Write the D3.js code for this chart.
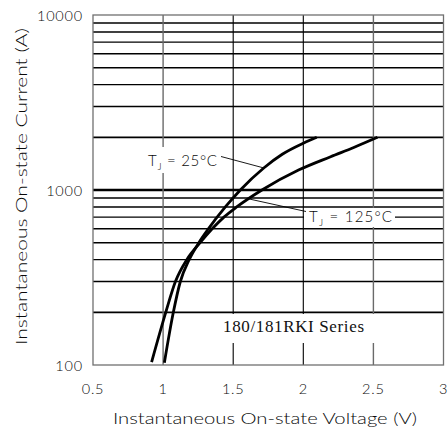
<!DOCTYPE html>
<html>
<head>
<meta charset="utf-8">
<script src="https://cdn.jsdelivr.net/npm/d3@7"></script>
<style>
  body { margin: 0; background: #fff; }
  svg { display: block; }
  text { font-family: Lato, "DejaVu Sans", sans-serif; font-weight: 300; fill: #0a0a0a; }
</style>
</head>
<body>
<div id="chart"></div>
<script>
// Données
const xTicks = [0.5, 1, 1.5, 2, 2.5, 3]
const yTicks = [100, 1000, 10000]
const yGrid = [200, 300, 400, 500, 600, 700, 800, 900, 1000,
    2000, 3000, 4000, 5000, 6000, 7000, 8000, 9000]

// T_J = 25°C
const v25 = [1.009, 1.073, 1.123, 1.186, 1.255, 1.323, 1.444, 1.551, 1.718, 1.85, 2.004, 2.096]
const i25 = [103, 200, 300, 400, 500, 600, 800, 1000, 1336, 1600, 1856, 2000]

// T_J = 125°C
const v125 = [0.918, 1.019, 1.088, 1.169, 1.264, 1.35, 1.434, 1.525, 1.705, 1.966, 2.195, 2.36, 2.529]
const i125 = [104, 200, 300, 400, 500, 600, 700, 800, 1000, 1300, 1550, 1750, 2000]

const W = 448, H = 434
const margin = { top: 15, right: 4.5, bottom: 69, left: 93 }

const svg = d3.select('#chart')
    .append('svg')
    .attr('width', W)
    .attr('height', H)

const x = d3.scaleLinear()
    .domain([0.5, 3])
    .range([margin.left, W - margin.right])

const y = d3.scaleLog()
    .domain([100, 10000])
    .range([H - margin.bottom, margin.top])

// grille horizontale
svg.append('g')
    .selectAll('line')
    .data(yGrid)
    .enter()
    .append('line')
    .attr('x1', x(0.5)).attr('x2', x(3))
    .attr('y1', d => y(d)).attr('y2', d => y(d))
    .attr('stroke', '#000')
    .attr('stroke-width', d => d == 1000 ? 2.3 : (d == 200 || d == 2000 ? 1.8 : 1.4))

// grille verticale
svg.append('g')
    .selectAll('line')
    .data(xTicks.slice(1, -1))
    .enter()
    .append('line')
    .attr('x1', d => x(d)).attr('x2', d => x(d))
    .attr('y1', y(10000)).attr('y2', y(100))
    .attr('stroke', d => (d == 1 || d == 2.5) ? '#6a6a6a' : '#000')
    .attr('stroke-width', d => (d == 1 || d == 2.5) ? 1.4 : 1.1)

// cadre
svg.append('rect')
    .attr('x', x(0.5)).attr('y', y(10000))
    .attr('width', x(3) - x(0.5)).attr('height', y(100) - y(10000))
    .attr('fill', 'none')
    .attr('stroke', '#707070')
    .attr('stroke-width', 1.3)

// étiquettes des axes
svg.append('g')
    .selectAll('text')
    .data(yTicks)
    .enter()
    .append('text')
    .attr('x', 83)
    .attr('y', d => y(d) + 6)
    .attr('text-anchor', 'end')
    .style('font-size', '14.5px')
    .style('letter-spacing', '0.8px')
    .text(d => d)

svg.append('g')
    .selectAll('text')
    .data(xTicks)
    .enter()
    .append('text')
    .attr('x', d => x(d))
    .attr('y', y(100) + 28.5)
    .attr('text-anchor', 'middle')
    .style('font-size', '14.5px')
    .style('letter-spacing', '0.8px')
    .text(d => d)

svg.append('text')
    .attr('x', 265)
    .attr('y', 424)
    .attr('text-anchor', 'middle')
    .style('font-size', '15.5px')
    .attr('textLength', 304)
    .attr('lengthAdjust', 'spacingAndGlyphs')
    .text('Instantaneous On-state Voltage (V)')

svg.append('text')
    .attr('transform', 'translate(27,186.5) rotate(-90)')
    .attr('text-anchor', 'middle')
    .style('font-size', '15.5px')
    .attr('textLength', 317)
    .attr('lengthAdjust', 'spacingAndGlyphs')
    .text('Instantaneous On-state Current (A)')

// fonds blancs des étiquettes
const boxes = [[145, 147, 75, 26], [304, 208, 91, 19], [215, 314, 165, 29]]
svg.append('g')
    .selectAll('rect')
    .data(boxes)
    .enter()
    .append('rect')
    .attr('x', d => d[0]).attr('y', d => d[1])
    .attr('width', d => d[2]).attr('height', d => d[3])
    .attr('fill', '#fff')

// courbes
const line = d3.line()
    .x(d => x(d[0]))
    .y(d => y(d[1]))
    .curve(d3.curveMonotoneX)

svg.append('path')
    .datum(d3.zip(v25, i25))
    .attr('d', line)
    .attr('fill', 'none')
    .attr('stroke', '#000')
    .attr('stroke-width', 2.8)

svg.append('path')
    .datum(d3.zip(v125, i125))
    .attr('d', line)
    .attr('fill', 'none')
    .attr('stroke', '#000')
    .attr('stroke-width', 2.8)

// lignes de rappel
svg.append('line')
    .attr('x1', 221).attr('y1', 156.5)
    .attr('x2', 264).attr('y2', 168)
    .attr('stroke', '#000').attr('stroke-width', 0.9)

svg.append('line')
    .attr('x1', 247).attr('y1', 198.5)
    .attr('x2', 306).attr('y2', 211.5)
    .attr('stroke', '#000').attr('stroke-width', 0.9)

// labels T_J
function tjLabel(px, py, temp, w) {
    const t = svg.append('text')
        .attr('x', px).attr('y', py)
        .style('font-size', '15px')
        .attr('textLength', w)
    t.append('tspan').text('T')
    t.append('tspan').attr('dy', 4).style('font-size', '10px').text('J')
    t.append('tspan').attr('dy', -4).text(' = ' + temp + '°C')
}
tjLabel(148, 166, 25, 69)
tjLabel(309, 222, 125, 83)

svg.append('text')
    .attr('x', 223)
    .attr('y', 332)
    .style('font-family', '"Liberation Serif", serif')
    .style('font-weight', 400)
    .style('font-size', '17px')
    .style('fill', '#111')
    .attr('textLength', 141)
    .attr('lengthAdjust', 'spacing')
    .text('180/181RKI Series')
</script>
</body>
</html>
